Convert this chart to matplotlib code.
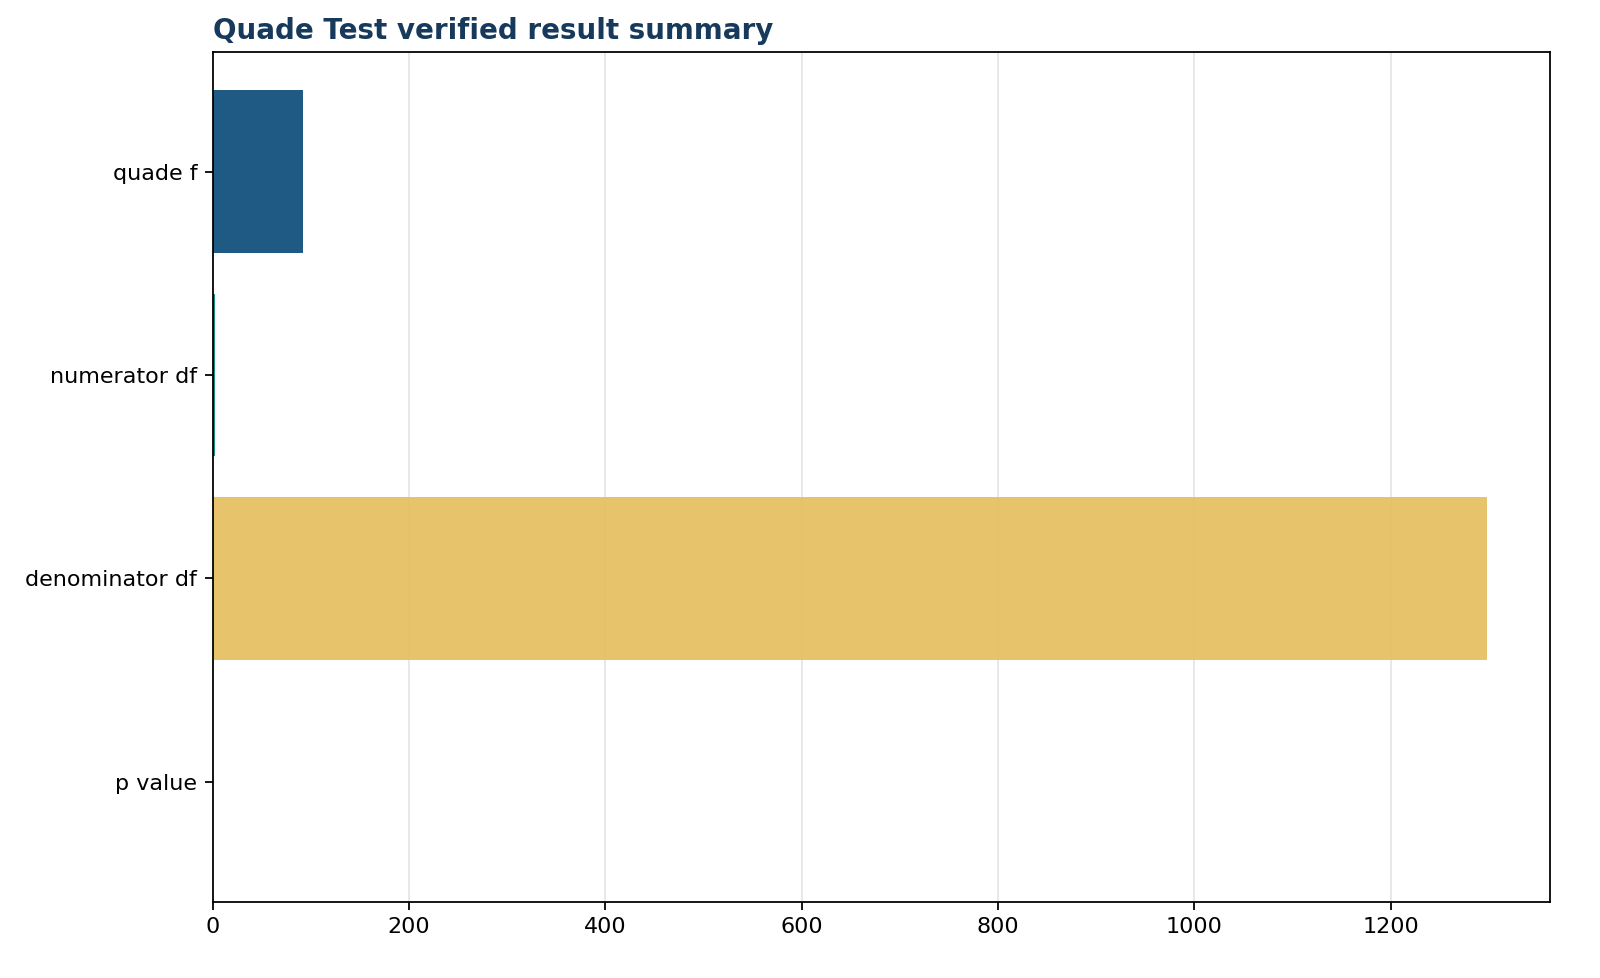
import matplotlib
matplotlib.use('Agg')
import matplotlib.pyplot as plt

# data
labels = ['quade f', 'numerator df', 'denominator df', 'p value']
values = [91.6, 2, 1298, 1e-30]
colors = ['#1f5a85', '#16907f', '#e5bd5c', '#c0392b']
alphas = [1.0, 1.0, 0.9, 1.0]

fig, ax = plt.subplots(figsize=(10, 6.1125), dpi=160)
fig.subplots_adjust(left=0.133, right=0.969, top=0.947, bottom=0.078)

bars = ax.barh(labels, values, color=colors, height=0.8, zorder=2)
for b, a in zip(bars, alphas):
    b.set_alpha(a)
ax.invert_yaxis()
ax.grid(axis='x', color='#e6e6e6', linewidth=0.8, zorder=1)
ax.set_axisbelow(True)
ax.tick_params(labelsize=10)
ax.set_title('Quade Test verified result summary', loc='left',
             fontsize=12.5, fontweight='bold', color='#173a5c', pad=6)

plt.savefig('out.png', dpi=160)
